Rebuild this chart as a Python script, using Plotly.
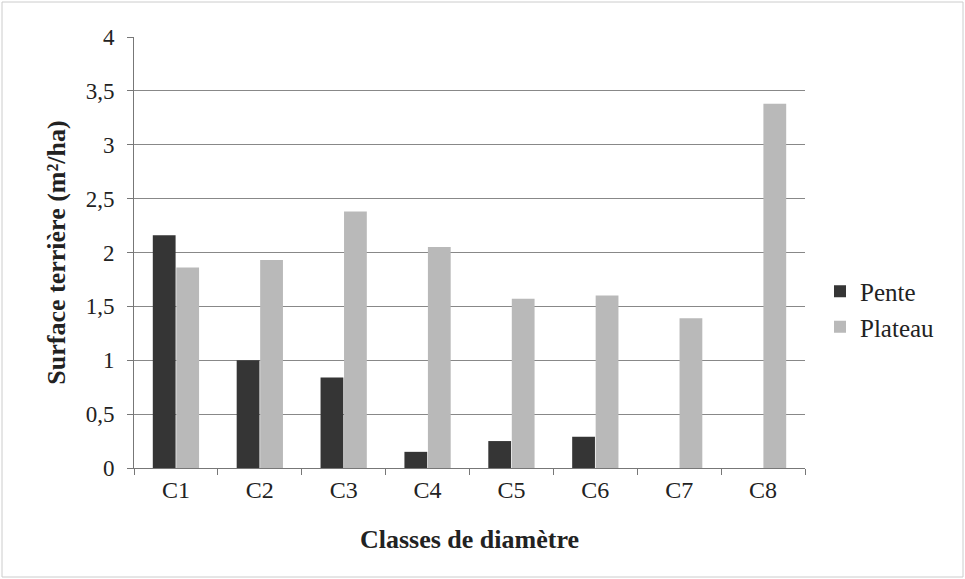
import plotly.graph_objects as go

categories = ["C1", "C2", "C3", "C4", "C5", "C6", "C7", "C8"]
pente = [2.16, 1.0, 0.84, 0.15, 0.25, 0.29, 0, 0]
plateau = [1.86, 1.93, 2.38, 2.05, 1.57, 1.60, 1.39, 3.38]
y_ticks = [0, 0.5, 1, 1.5, 2, 2.5, 3, 3.5, 4]
y_tick_labels = ["0", "0,5", "1", "1,5", "2", "2,5", "3", "3,5", "4"]

W, H = 965, 579
L, R, T, B = 134, 160, 37, 111
pw, ph = W - L - R, H - T - B

serif = "Liberation Serif"

fig = go.Figure()
fig.add_trace(go.Bar(x=categories, y=pente, name="Pente",
                     marker=dict(color="#353535", line=dict(width=0))))
fig.add_trace(go.Bar(x=categories, y=plateau, name="Plateau",
                     marker=dict(color="#b9b9b9", line=dict(width=0))))

fig.update_layout(
    width=W, height=H,
    margin=dict(l=L, r=R, t=T, b=B, autoexpand=False),
    paper_bgcolor="white", plot_bgcolor="white",
    barmode="group", bargap=0.44, bargroupgap=0.03,
    font=dict(family=serif, size=23, color="#222222"),
    showlegend=True,
    legend=dict(x=(820 - L) / pw, y=(H - B - 309) / ph, xanchor="left", yanchor="middle",
                font=dict(family=serif, size=25, color="#222222"),
                itemwidth=30, tracegroupgap=2, bgcolor="rgba(0,0,0,0)"),
    xaxis=dict(
        title=dict(text="<b>Classes de diamètre</b>", font=dict(family=serif, size=26), standoff=28),
        showline=True, linecolor="#777777", linewidth=1,
        ticks="outside", tickson="boundaries", ticklen=6, tickcolor="#777777",
        showgrid=False, tickfont=dict(family=serif, size=24),
    ),
    yaxis=dict(
        title=dict(text="<b>Surface terrière (m²/ha)</b>", font=dict(family=serif, size=26), standoff=12),
        range=[0, 4], tickvals=y_ticks, ticktext=y_tick_labels,
        showline=True, linecolor="#777777", linewidth=1,
        ticks="outside", ticklen=6, tickcolor="#777777",
        showgrid=True, gridcolor="#888888", gridwidth=1.3,
        zeroline=False, tickfont=dict(family=serif, size=23),
        ticklabelstandoff=8,
    ),
    shapes=[dict(type="rect", xref="paper", yref="paper",
                 x0=(2 - L) / pw, x1=(W - 2 - L) / pw,
                 y0=(H - B - (H - 2)) / ph, y1=(H - B - 2) / ph,
                 line=dict(color="#cccccc", width=1), layer="below")],
)

fig.write_html("out.html", config={"displayModeBar": False},
               post_script="document.body.style.margin='0';document.body.style.overflow='hidden';")
